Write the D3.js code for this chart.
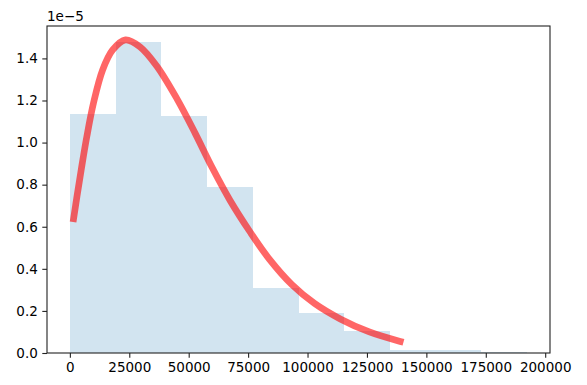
<!DOCTYPE html>
<html>
<head>
<meta charset="utf-8">
<script src="https://cdn.jsdelivr.net/npm/d3@7"></script>
<style>
  body { margin: 0; background: #fff; }
  text { font-family: "DejaVu Sans", sans-serif; fill: #000; }
</style>
</head>
<body>
<script>
// histogram bin edges and density heights
var binEdges = [0, 19240, 38480, 57720, 76960, 96200, 115440, 134680, 153920, 173160, 192400];
var binDensity = [1.135e-5, 1.48e-5, 1.125e-5, 0.79e-5, 0.31e-5, 0.19e-5, 0.105e-5, 0.014e-5, 0.014e-5, 0.006e-5];

// fitted pdf curve, sampled by eye
var curveX = [1560, 3000, 4760, 7160, 9990, 13780, 18000, 23400, 29500, 36540, 44960, 52680, 59710, 67420, 75850, 84000, 93420, 103000, 113780, 126000, 139000];
var curveY = [0.638e-5, 0.745e-5, 0.87e-5, 1.03e-5, 1.19e-5, 1.345e-5, 1.44e-5, 1.488e-5, 1.455e-5, 1.364e-5, 1.21e-5, 1.045e-5, 0.885e-5, 0.725e-5, 0.575e-5, 0.445e-5, 0.325e-5, 0.235e-5, 0.162e-5, 0.10e-5, 0.055e-5];

var xTicks = [0, 25000, 50000, 75000, 100000, 125000, 150000, 175000, 200000];
var yTicks = [0, 0.2e-5, 0.4e-5, 0.6e-5, 0.8e-5, 1.0e-5, 1.2e-5, 1.4e-5];

var W = 587, H = 385;
var mLeft = 47, mRight = 550, mTop = 26, mBottom = 353;

var svg = d3.select("body").append("svg")
  .attr("width", W).attr("height", H);

var lo = binEdges[0], hi = binEdges[binEdges.length - 1];
var pad = (hi - lo) * 0.05;
var x = d3.scaleLinear().domain([lo - pad, hi + pad]).range([mLeft, mRight]);
var y = d3.scaleLinear().domain([0, d3.max(binDensity) * 1.05]).range([mBottom, mTop]);

var bins = binDensity.map(function(d, i) {
  return {x0: binEdges[i], x1: binEdges[i + 1], h: d};
});

svg.selectAll(".bar")
  .data(bins)
  .enter()
  .append("rect")
  .attr("class", "bar")
  .attr("x", function(d) { return x(d.x0); })
  .attr("width", function(d) { return x(d.x1) - x(d.x0); })
  .attr("y", function(d) { return y(d.h); })
  .attr("height", function(d) { return y(0) - y(d.h); })
  .attr("fill", "#1f77b4")
  .attr("fill-opacity", 0.2)
  .attr("shape-rendering", "crispEdges");

var pts = curveX.map(function(v, i) { return [v, curveY[i]]; });
var line = d3.line()
  .x(function(d) { return x(d[0]); })
  .y(function(d) { return y(d[1]); })
  .curve(d3.curveCatmullRom);

svg.append("path")
  .datum(pts)
  .attr("d", line)
  .attr("fill", "none")
  .attr("stroke", "red")
  .attr("stroke-opacity", 0.6)
  .attr("stroke-width", 6.7)
  .attr("stroke-linecap", "square")
  .attr("stroke-linejoin", "round");

// axes
var xAxis = d3.axisBottom(x).tickValues(xTicks).tickSize(4.7).tickPadding(4.5)
  .tickFormat(d3.format("d"));
var yAxis = d3.axisLeft(y).tickValues(yTicks).tickSize(4.7).tickPadding(4.5)
  .tickFormat(function(d) { return (d / 1e-5).toFixed(1); });

var gx = svg.append("g").attr("transform", "translate(0," + mBottom + ")").call(xAxis);
var gy = svg.append("g").attr("transform", "translate(" + mLeft + ",0)").call(yAxis);
[gx, gy].forEach(function(g) {
  g.select(".domain").remove();
  g.selectAll("line").attr("stroke", "#222").attr("stroke-width", 1.1);
  g.selectAll("text").attr("font-size", "13.5px").attr("fill", "#222");
});

// frame
svg.append("rect")
  .attr("x", mLeft).attr("y", mTop)
  .attr("width", mRight - mLeft).attr("height", mBottom - mTop)
  .attr("fill", "none")
  .attr("stroke", "#222")
  .attr("stroke-width", 1.1);

svg.append("text")
  .attr("x", mLeft).attr("y", 21)
  .attr("font-size", "13.5px")
  .attr("fill", "#222")
  .text("1e\u22125");
</script>
</body>
</html>
